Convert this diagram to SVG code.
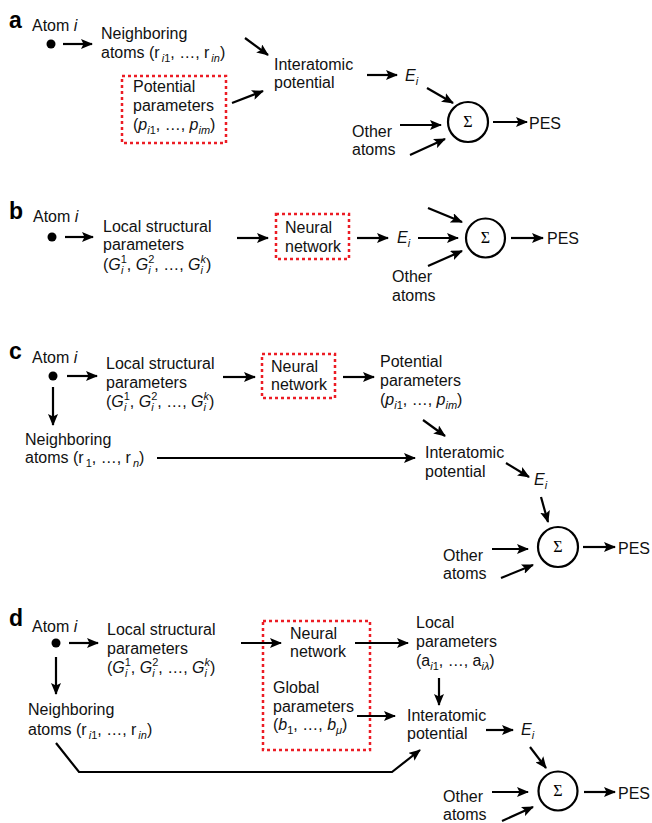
<svg xmlns="http://www.w3.org/2000/svg" width="652" height="823" viewBox="0 0 652 823">
<style>
.t{font-family:"Liberation Sans",Arial,Helvetica,sans-serif;font-size:16px;fill:#111}
.s{font-size:11px}
.it{font-style:italic}
.lbl{font-family:"Liberation Sans",Arial,sans-serif;font-size:23px;font-weight:bold;fill:#000}
.sig{font-family:"Liberation Serif","Times New Roman",serif;font-size:16px;fill:#000;text-anchor:middle}
.ln{stroke:#000;stroke-width:2.2;fill:none;marker-end:url(#ah)}
.box{fill:none;stroke:#ec1c24;stroke-width:2.5;stroke-dasharray:3 3}
.dot{fill:#000}
.circ{fill:#fff;stroke:#000;stroke-width:2.2}
</style>
<defs>
<marker id="ah" viewBox="0 0 12 10" refX="11" refY="5" markerWidth="12" markerHeight="10" orient="auto" markerUnits="userSpaceOnUse">
<path d="M0,0 L12,5 L0,10 L2.5,5 z" fill="#000"/>
</marker>
</defs>
<rect width="652" height="823" fill="#fff"/>

<!-- Panel a -->
<g id="panel-a">
<text class="lbl" x="9" y="28">a</text>
<g id="a-atom"><text class="t" x="32" y="31">Atom <tspan class="it">i</tspan></text><circle class="dot" cx="51" cy="44" r="4.5"/></g>
<g id="a-neigh"><text class="t" x="101" y="39">Neighboring</text><text class="t" x="101" y="58">atoms (r<tspan class="s" dx="2" dy="4"><tspan class="it">i</tspan>1</tspan><tspan dy="-4">, …, r</tspan><tspan class="s it" dx="2" dy="4">in</tspan><tspan dy="-4">)</tspan></text></g>
<g id="a-params"><rect class="box" x="122" y="76" width="104" height="67"/><text class="t" x="133" y="92">Potential</text><text class="t" x="133" y="111">parameters</text><text class="t" x="133" y="130">(<tspan class="it">p</tspan><tspan class="s" dy="4"><tspan class="it">i</tspan>1</tspan><tspan dy="-4">, …, </tspan><tspan class="it">p</tspan><tspan class="s it" dy="4">im</tspan><tspan dy="-4">)</tspan></text></g>
<g id="a-inter"><text class="t" x="274" y="70">Interatomic</text><text class="t" x="274" y="88">potential</text></g>
<g id="a-ei"><text class="t it" x="405" y="81">E<tspan class="s" dy="4">i</tspan></text></g>
<g id="a-sum"><circle class="circ" cx="468" cy="122" r="20"/><text class="sig" x="468" y="127">Σ</text></g>
<g id="a-other"><text class="t" x="352" y="137">Other</text><text class="t" x="352" y="155">atoms</text></g>
<g id="a-pes"><text class="t" x="529" y="129">PES</text></g>
<g id="a-connectors">
<line class="ln" x1="63" y1="44" x2="92" y2="44"/>
<line class="ln" x1="245" y1="38" x2="268" y2="55"/>
<line class="ln" x1="232" y1="103" x2="263" y2="91"/>
<line class="ln" x1="367" y1="75" x2="397" y2="75"/>
<line class="ln" x1="427" y1="88" x2="453" y2="103"/>
<line class="ln" x1="400" y1="125" x2="441" y2="125"/>
<line class="ln" x1="410" y1="155" x2="445" y2="139"/>
<line class="ln" x1="493" y1="122" x2="527" y2="122"/>
</g>
</g>

<!-- Panel b -->
<g id="panel-b">
<text class="lbl" x="9" y="219">b</text>
<g id="b-atom"><text class="t" x="33" y="222">Atom <tspan class="it">i</tspan></text><circle class="dot" cx="52" cy="237" r="4.5"/></g>
<g id="b-local"><text class="t" x="103" y="232">Local structural</text><text class="t" x="103" y="250">parameters</text><text class="t" x="103" y="270">(<tspan class="it">G</tspan><tspan class="s" dy="-7">1</tspan><tspan class="s it" dx="-6" dy="11">i</tspan><tspan dx="3.5" dy="-4">, </tspan><tspan class="it">G</tspan><tspan class="s" dy="-7">2</tspan><tspan class="s it" dx="-6" dy="11">i</tspan><tspan dx="3.5" dy="-4">, …, </tspan><tspan class="it">G</tspan><tspan class="s it" dy="-7">k</tspan><tspan class="s it" dx="-5.5" dy="11">i</tspan><tspan dx="3" dy="-4">)</tspan></text></g>
<g id="b-nn"><rect class="box" x="276" y="214" width="73" height="45"/><text class="t" x="285" y="233">Neural</text><text class="t" x="285" y="252">network</text></g>
<g id="b-ei"><text class="t it" x="397" y="243">E<tspan class="s" dy="4">i</tspan></text></g>
<g id="b-sum"><circle class="circ" cx="485.5" cy="238" r="19.5"/><text class="sig" x="485.5" y="243">Σ</text></g>
<g id="b-other"><text class="t" x="392" y="282">Other</text><text class="t" x="392" y="301">atoms</text></g>
<g id="b-pes"><text class="t" x="547" y="244">PES</text></g>
<g id="b-connectors">
<line class="ln" x1="65" y1="237" x2="93" y2="237"/>
<line class="ln" x1="237" y1="238" x2="268" y2="238"/>
<line class="ln" x1="357" y1="238" x2="388" y2="238"/>
<line class="ln" x1="418" y1="238" x2="458" y2="238"/>
<line class="ln" x1="428" y1="208" x2="462" y2="222"/>
<line class="ln" x1="428" y1="266" x2="462" y2="251"/>
<line class="ln" x1="511" y1="238" x2="543" y2="238"/>
</g>
</g>

<!-- Panel c -->
<g id="panel-c">
<text class="lbl" x="9" y="359">c</text>
<g id="c-atom"><text class="t" x="32" y="363">Atom <tspan class="it">i</tspan></text><circle class="dot" cx="53" cy="376" r="4.5"/></g>
<g id="c-local"><text class="t" x="106" y="369">Local structural</text><text class="t" x="106" y="388">parameters</text><text class="t" x="106" y="407">(<tspan class="it">G</tspan><tspan class="s" dy="-7">1</tspan><tspan class="s it" dx="-6" dy="11">i</tspan><tspan dx="3.5" dy="-4">, </tspan><tspan class="it">G</tspan><tspan class="s" dy="-7">2</tspan><tspan class="s it" dx="-6" dy="11">i</tspan><tspan dx="3.5" dy="-4">, …, </tspan><tspan class="it">G</tspan><tspan class="s it" dy="-7">k</tspan><tspan class="s it" dx="-5.5" dy="11">i</tspan><tspan dx="3" dy="-4">)</tspan></text></g>
<g id="c-nn"><rect class="box" x="262" y="354" width="73" height="44"/><text class="t" x="271" y="372">Neural</text><text class="t" x="271" y="390">network</text></g>
<g id="c-params"><text class="t" x="380" y="367">Potential</text><text class="t" x="380" y="386">parameters</text><text class="t" x="380" y="405">(<tspan class="it">p</tspan><tspan class="s" dy="4"><tspan class="it">i</tspan>1</tspan><tspan dy="-4">, …, </tspan><tspan class="it">p</tspan><tspan class="s it" dy="4">im</tspan><tspan dy="-4">)</tspan></text></g>
<g id="c-neigh"><text class="t" x="25" y="445">Neighboring</text><text class="t" x="25" y="463">atoms (r<tspan class="s" dx="2" dy="4">1</tspan><tspan dy="-4">, …, r</tspan><tspan class="s it" dx="2" dy="4">n</tspan><tspan dy="-4">)</tspan></text></g>
<g id="c-inter"><text class="t" x="425" y="458">Interatomic</text><text class="t" x="425" y="477">potential</text></g>
<g id="c-ei"><text class="t it" x="534" y="485">E<tspan class="s" dy="4">i</tspan></text></g>
<g id="c-sum"><circle class="circ" cx="558" cy="547" r="20"/><text class="sig" x="558" y="552">Σ</text></g>
<g id="c-other"><text class="t" x="443" y="561">Other</text><text class="t" x="443" y="579">atoms</text></g>
<g id="c-pes"><text class="t" x="618" y="554">PES</text></g>
<g id="c-connectors">
<line class="ln" x1="67" y1="376" x2="97" y2="376"/>
<line class="ln" x1="53" y1="387" x2="53" y2="425"/>
<line class="ln" x1="223" y1="377" x2="255" y2="377"/>
<line class="ln" x1="343" y1="377" x2="374" y2="377"/>
<line class="ln" x1="423" y1="420" x2="445" y2="436"/>
<line class="ln" x1="157" y1="458" x2="415" y2="458"/>
<line class="ln" x1="506" y1="463" x2="529" y2="477"/>
<line class="ln" x1="541" y1="497" x2="548" y2="522"/>
<line class="ln" x1="492" y1="549" x2="528" y2="549"/>
<line class="ln" x1="501" y1="578" x2="533" y2="565"/>
<line class="ln" x1="583" y1="547" x2="615" y2="547"/>
</g>
</g>

<!-- Panel d -->
<g id="panel-d">
<text class="lbl" x="9" y="626">d</text>
<g id="d-atom"><text class="t" x="32" y="632">Atom <tspan class="it">i</tspan></text><circle class="dot" cx="56" cy="643" r="4.5"/></g>
<g id="d-local"><text class="t" x="107" y="635">Local structural</text><text class="t" x="107" y="654">parameters</text><text class="t" x="107" y="673">(<tspan class="it">G</tspan><tspan class="s" dy="-7">1</tspan><tspan class="s it" dx="-6" dy="11">i</tspan><tspan dx="3.5" dy="-4">, </tspan><tspan class="it">G</tspan><tspan class="s" dy="-7">2</tspan><tspan class="s it" dx="-6" dy="11">i</tspan><tspan dx="3.5" dy="-4">, …, </tspan><tspan class="it">G</tspan><tspan class="s it" dy="-7">k</tspan><tspan class="s it" dx="-5.5" dy="11">i</tspan><tspan dx="3" dy="-4">)</tspan></text></g>
<g id="d-nn"><rect class="box" x="263" y="621" width="107" height="129"/><text class="t" x="290" y="639">Neural</text><text class="t" x="290" y="657">network</text></g>
<g id="d-global"><text class="t" x="273" y="693">Global</text><text class="t" x="273" y="712">parameters</text><text class="t" x="273" y="730">(<tspan class="it">b</tspan><tspan class="s" dy="4">1</tspan><tspan dy="-4">, …, </tspan><tspan class="it">b</tspan><tspan class="s it" dy="4">μ</tspan><tspan dy="-4">)</tspan></text></g>
<g id="d-localp"><text class="t" x="416" y="628">Local</text><text class="t" x="416" y="647">parameters</text><text class="t" x="416" y="666">(a<tspan class="s" dy="4"><tspan class="it">i</tspan>1</tspan><tspan dy="-4">, …, a</tspan><tspan class="s it" dy="4">iλ</tspan><tspan dy="-4">)</tspan></text></g>
<g id="d-neigh"><text class="t" x="28" y="715">Neighboring</text><text class="t" x="28" y="735">atoms (r<tspan class="s" dx="2" dy="4"><tspan class="it">i</tspan>1</tspan><tspan dy="-4">, …, r</tspan><tspan class="s it" dx="2" dy="4">in</tspan><tspan dy="-4">)</tspan></text></g>
<g id="d-inter"><text class="t" x="407" y="721">Interatomic</text><text class="t" x="407" y="739">potential</text></g>
<g id="d-ei"><text class="t it" x="521" y="735">E<tspan class="s" dy="4">i</tspan></text></g>
<g id="d-sum"><circle class="circ" cx="558" cy="791" r="19.5"/><text class="sig" x="558" y="796">Σ</text></g>
<g id="d-other"><text class="t" x="443" y="802">Other</text><text class="t" x="443" y="820">atoms</text></g>
<g id="d-pes"><text class="t" x="618" y="799">PES</text></g>
<g id="d-connectors">
<line class="ln" x1="69" y1="643" x2="98" y2="643"/>
<line class="ln" x1="56" y1="657" x2="56" y2="694"/>
<line class="ln" x1="241" y1="643" x2="281" y2="643"/>
<line class="ln" x1="355" y1="643" x2="408" y2="643"/>
<line class="ln" x1="357" y1="716" x2="395" y2="716"/>
<line class="ln" x1="439" y1="678" x2="439" y2="705"/>
<polyline class="ln" points="56,743 79,772 392,772 420,750"/>
<line class="ln" x1="486" y1="730" x2="513" y2="730"/>
<line class="ln" x1="530" y1="747" x2="546" y2="768"/>
<line class="ln" x1="492" y1="792" x2="528" y2="792"/>
<line class="ln" x1="502" y1="821" x2="533" y2="807"/>
<line class="ln" x1="584" y1="792" x2="615" y2="792"/>
</g>
</g>
</svg>
